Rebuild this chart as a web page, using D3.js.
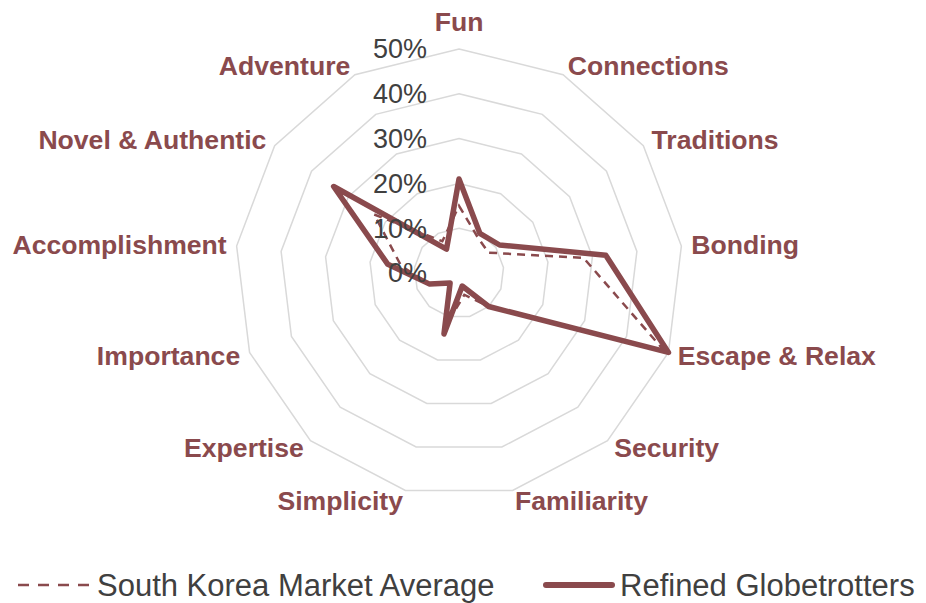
<!DOCTYPE html>
<html>
<head>
<meta charset="utf-8">
<script src="https://cdn.jsdelivr.net/npm/d3@7"></script>
<style>
  body { margin: 0; background: #fff; }
  svg { display: block; font-family: Arial, 'Liberation Sans', sans-serif; }
</style>
</head>
<body>
<svg id="chart" width="926" height="603"></svg>
<script>
'use strict';
const CATEGORIES = [
  'Fun', 'Connections', 'Traditions', 'Bonding', 'Escape & Relax', 'Security',
  'Familiarity', 'Simplicity', 'Expertise', 'Importance', 'Accomplishment',
  'Novel & Authentic', 'Adventure',
];
const MARKET_AVERAGE = [15, 9, 8, 28, 49, 10, 5, 12, 3, 7, 13, 23, 8];
const REFINED_GLOBETROTTERS = [21, 10, 11, 33, 50, 10, 3, 14, 3, 7, 16, 34, 6];
const TICKS = [0, 10, 20, 30, 40, 50];
const SERIES_NAMES = ['South Korea Market Average', 'Refined Globetrotters'];
const COLOR = '#8a4a4d';

drawChart();

function drawChart() {
  let svg = d3.select('#chart');
  let cx = 459,
    cy = 273,
    radius = 224;

  let r = d3.scaleLinear().domain([0, 50]).range([0, radius]);
  let angle = d3
    .scaleLinear()
    .domain([0, CATEGORIES.length])
    .range([0, 2 * Math.PI]);

  let g = svg.append('g').attr('transform', `translate(${cx},${cy})`);

  // grid polygons
  g.append('g')
    .selectAll('path')
    .data(TICKS.filter((t) => t > 0))
    .enter()
    .append('path')
    .attr('d', (t) =>
      d3
        .lineRadial()
        .angle((d, i) => angle(i))
        .radius(r(t))
        .curve(d3.curveLinearClosed)(CATEGORIES)
    )
    .attr('fill', 'none')
    .attr('stroke', '#d9d9d9')
    .attr('stroke-width', 1.5);

  // series
  let line = d3
    .lineRadial()
    .angle((d, i) => angle(i))
    .radius((d) => r(d))
    .curve(d3.curveLinearClosed);

  g.append('path')
    .attr('d', line(MARKET_AVERAGE))
    .attr('fill', 'none')
    .attr('stroke', COLOR)
    .attr('stroke-width', 2.5)
    .attr('stroke-dasharray', '8,6');

  g.append('path')
    .attr('d', line(REFINED_GLOBETROTTERS))
    .attr('fill', 'none')
    .attr('stroke', COLOR)
    .attr('stroke-width', 5.5)
    .attr('stroke-linejoin', 'round');

  // tick labels
  g.append('g')
    .selectAll('text')
    .data(TICKS)
    .enter()
    .append('text')
    .attr('x', -32)
    .attr('y', (t) => -r(t))
    .attr('dy', '0.35em')
    .attr('text-anchor', 'end')
    .attr('font-size', 27)
    .attr('fill', '#404040')
    .text((t) => t + '%');

  // category labels
  let labelR = radius + 10;
  g.append('g')
    .selectAll('text')
    .data(CATEGORIES)
    .enter()
    .append('text')
    .each(function (d, i) {
      let a = angle(i);
      let x = labelR * Math.sin(a),
        y = -labelR * Math.cos(a);
      let anchor = Math.abs(x) < 1 ? 'middle' : x > 0 ? 'start' : 'end';
      let top = Math.abs(x) < 1 && y < 0;
      d3.select(this)
        .attr('x', x)
        .attr('y', top ? y - 8 : y)
        .attr('dy', top ? 0 : '0.35em')
        .attr('text-anchor', anchor);
    })
    .attr('font-size', 26.6)
    .attr('font-weight', 'bold')
    .attr('fill', COLOR)
    .text((d) => d);

  // legend
  let legend = svg.append('g').attr('transform', 'translate(0,585)');
  let items = [
    { x1: 18, x2: 90, tx: 97, width: 2.5, dash: '11,9' },
    { x1: 546, x2: 612, tx: 620, width: 6, dash: null },
  ];
  items.forEach((it, i) => {
    legend
      .append('line')
      .attr('x1', it.x1)
      .attr('x2', it.x2)
      .attr('stroke', COLOR)
      .attr('stroke-width', it.width)
      .attr('stroke-dasharray', it.dash)
      .attr('stroke-linecap', it.dash ? 'butt' : 'round');
    legend
      .append('text')
      .attr('x', it.tx)
      .attr('dy', '0.35em')
      .attr('font-size', 31)
      .attr('fill', '#404040')
      .text(SERIES_NAMES[i]);
  });
}
</script>
</body>
</html>
